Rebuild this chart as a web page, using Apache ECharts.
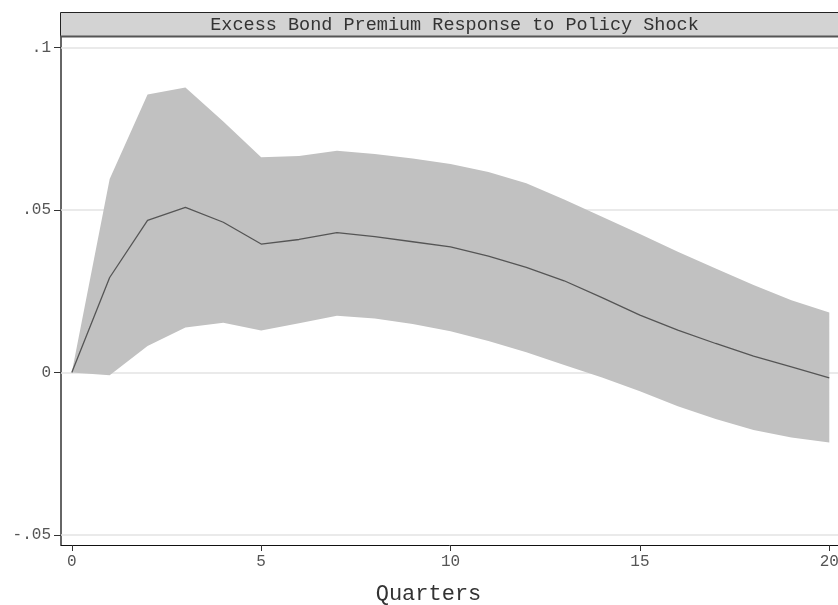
<!DOCTYPE html>
<html>
<head>
<meta charset="utf-8">
<script src="https://cdn.jsdelivr.net/npm/echarts@6/dist/echarts.min.js"></script>
<style>html,body{margin:0;padding:0;background:#fff}#c{width:838px;height:605px}</style>
</head>
<body>
<div id="c"></div>
<script>
var titleText = 'Excess Bond Premium Response to Policy Shock';
var xTitle = 'Quarters';
var quarters = [0,1,2,3,4,5,6,7,8,9,10,11,12,13,14,15,16,17,18,19,20];
var irf   = [0,0.0292,0.0468,0.0508,0.0462,0.0395,0.0409,0.0430,0.0418,0.0402,0.0386,0.0358,0.0323,0.0282,0.0230,0.0176,0.0130,0.0089,0.0050,0.0017,-0.0017];
var upper = [0,0.0595,0.0855,0.0877,0.0772,0.0662,0.0666,0.0682,0.0672,0.0658,0.0641,0.0617,0.0582,0.0532,0.0479,0.0426,0.0371,0.0320,0.0269,0.0222,0.0184];
var lower = [0,-0.0009,0.0081,0.0138,0.0153,0.0129,0.0151,0.0174,0.0166,0.0149,0.0127,0.0097,0.0062,0.0023,-0.0016,-0.0058,-0.0104,-0.0143,-0.0177,-0.0200,-0.0216];
var xTicks = [0,5,10,15,20];
var yTicks = [-0.05,0,0.05,0.1];
var yTickLabels = {'-0.05':'-.05','0':'0','0.05':'.05','0.1':'.1'};

var font = 'Liberation Mono, DejaVu Sans Mono, monospace';
var chart = echarts.init(document.getElementById('c'), null, {renderer:'canvas'});
var irfData = quarters.map(function(q,i){return [q, irf[i]];});
var bandData = quarters.map(function(q,i){return [q, lower[i], upper[i]];});

chart.setOption({
  animation:false,
  backgroundColor:'#fff',
  title:{text:titleText,left:449.5,top:11,textAlign:'center',
    textStyle:{fontFamily:font,fontSize:18.5,fontWeight:'normal',color:'#333'}},
  graphic:[
    {type:'rect',shape:{x:60.5,y:12.5,width:800,height:24},style:{fill:'#d3d3d3',stroke:'#222',lineWidth:1},z:-1},
    {type:'line',shape:{x1:60,y1:36.5,x2:860,y2:36.5},style:{stroke:'#555',lineWidth:2},z:10}
  ],
  grid:{left:61,right:0,top:37,bottom:60,containLabel:false,outerBoundsMode:'none'},
  xAxis:{type:'value',min:-0.285,max:20.23,
    name:xTitle,nameLocation:'middle',nameGap:38,
    nameTextStyle:{fontFamily:font,fontSize:22,color:'#333',padding:[0,42,0,0]},
    axisLine:{show:true,onZero:false,lineStyle:{color:'#111',width:1}},
    axisTick:{show:true,length:6,customValues:xTicks,lineStyle:{color:'#333'}},
    axisLabel:{customValues:xTicks,fontFamily:font,fontSize:16,color:'#555',margin:9},
    splitLine:{show:false}},
  yAxis:{type:'value',min:-0.0531,max:0.1032,
    axisLine:{show:true,onZero:false,lineStyle:{color:'#333',width:1.5}},
    axisTick:{show:true,length:7,customValues:yTicks,lineStyle:{color:'#333'}},
    axisLabel:{customValues:yTicks,fontFamily:font,fontSize:16,color:'#555',margin:10,
      formatter:function(v){var k=String(Math.round(v*100)/100);return yTickLabels[k]!==undefined?yTickLabels[k]:k;}},
    splitLine:{show:false}},
  series:[
    {type:'custom',data:bandData,silent:true,z:2,clip:true,
     encode:{x:0,y:[1,2]},
     renderItem:function(params,api){
       if(params.dataIndex!==0) return null;
       var pts=[],i;
       for(i=0;i<bandData.length;i++) pts.push(api.coord([bandData[i][0],bandData[i][2]]));
       for(i=bandData.length-1;i>=0;i--) pts.push(api.coord([bandData[i][0],bandData[i][1]]));
       return {type:'polygon',shape:{points:pts},style:{fill:'#c1c1c1',stroke:null}};
     },
     markLine:{silent:true,symbol:'none',label:{show:false},z:1,
       lineStyle:{color:'#e3e3e3',width:1.5,type:'solid'},
       data:yTicks.map(function(v){return {yAxis:v};})}},
    {type:'line',data:irfData,symbol:'none',lineStyle:{color:'#555',width:1.3},z:4}
  ]
});
</script>
</body>
</html>
